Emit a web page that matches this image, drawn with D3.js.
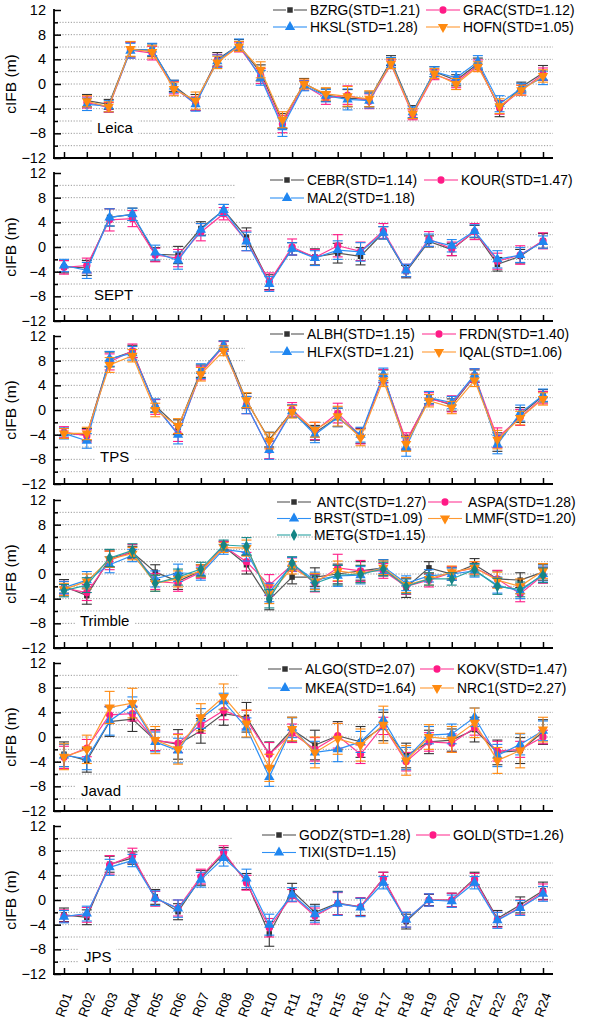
<!DOCTYPE html>
<html><head><meta charset="utf-8">
<script src="https://cdn.jsdelivr.net/npm/d3@7"></script>
<style>
body{margin:0;background:#fff}
svg{display:block}
text{font-family:"Liberation Sans",Arial,sans-serif;fill:#000}
</style>
</head><body>
<svg id="c" width="610" height="1025"></svg>
<script>
// ---------------- DATA ----------------
const categories = ["R01","R02","R03","R04","R05","R06","R07","R08","R09","R10","R11","R13","R15","R16","R17","R18","R19","R20","R21","R22","R23","R24"];
const yTickLabels = [-12,-8,-4,0,4,8,12];
const receivers = ["Leica","SEPT","TPS","Trimble","Javad","JPS"];

// Leica
const BZRG = [-2.7,-3.3,5.6,5.5,-0.3,-3.0,4.0,6.3,1.8,-6.0,0.1,-1.8,-2.3,-2.5,3.8,-4.5,2.0,0.6,3.3,-4.0,-0.5,1.8];
const GRAC = [-3.0,-3.8,5.5,5.0,-0.6,-3.2,3.8,6.0,1.3,-6.5,-0.2,-2.3,-1.8,-2.8,3.2,-5.0,1.5,0.3,3.0,-3.8,-1.0,1.6];
const HKSL = [-3.3,-3.6,5.4,5.6,-0.4,-3.3,3.7,6.4,1.0,-7.0,-0.3,-1.9,-2.5,-2.7,3.5,-4.6,2.0,1.0,3.6,-3.2,-0.7,1.0];
const HOFN = [-2.8,-3.7,5.7,5.2,-0.8,-2.7,3.5,6.1,2.3,-5.8,0.0,-1.6,-2.0,-2.4,3.3,-4.8,1.7,0.0,2.8,-3.6,-1.0,1.3];
const BZRG_err = [1.0,0.8,1.2,1.0,0.9,1.3,1.1,0.9,1.3,1.2,0.8,1.0,1.4,1.2,0.8,1.0,0.8,0.9,0.9,1.3,0.8,1.2];
const GRAC_err = [0.9,0.8,1.3,1.1,1.0,1.1,1.0,0.8,1.2,1.4,0.8,1.0,1.5,1.2,0.7,0.8,0.8,0.9,0.9,1.1,0.8,1.0];
const HKSL_err = [1.0,0.9,1.2,1.0,1.0,1.1,1.0,0.9,1.2,1.5,0.8,1.0,1.7,1.2,0.8,0.9,0.8,1.0,1.0,1.3,0.8,1.1];
const HOFN_err = [0.9,0.8,1.2,1.0,1.1,1.4,1.0,0.8,1.3,1.3,0.8,1.0,1.6,1.3,0.8,0.8,0.8,0.9,0.8,1.2,0.8,1.0];

// SEPT
const CEBR = [-3.2,-3.4,4.8,5.3,-1.2,-1.3,3.0,6.0,1.6,-5.7,-0.3,-1.6,-1.0,-1.5,2.3,-4.0,0.9,-0.4,2.5,-2.8,-1.5,1.0];
const KOUR = [-3.3,-3.0,4.4,4.6,-1.3,-1.8,2.4,5.4,1.0,-5.6,0.0,-1.7,0.2,-0.7,2.6,-3.8,1.3,-0.3,2.5,-2.3,-1.3,1.0];
const MAL2 = [-3.0,-3.8,4.8,5.3,-0.9,-2.2,2.8,6.0,0.9,-6.0,-0.3,-1.8,-0.5,-0.8,2.3,-3.8,1.1,0.2,2.6,-2.0,-1.3,0.8];
const CEBR_err = [1.0,1.2,1.4,1.0,1.1,1.4,1.1,0.9,1.5,1.2,1.0,1.3,1.6,1.4,1.0,1.0,0.9,1.0,1.0,1.1,1.1,1.2];
const KOUR_err = [1.1,1.2,1.8,1.3,1.1,1.4,1.4,1.0,1.6,1.4,1.3,1.3,1.8,1.5,1.2,1.0,1.2,1.1,1.3,1.3,1.5,1.3];
const MAL2_err = [1.0,1.3,1.4,1.0,1.2,1.4,1.0,0.9,1.5,1.2,1.0,1.2,1.5,1.5,1.0,1.0,1.0,1.0,1.0,1.4,1.2,1.0];

// TPS
const ALBH = [-3.8,-4.0,8.2,9.5,0.7,-2.8,6.3,10.5,1.5,-4.8,-0.2,-3.7,-1.2,-4.2,5.5,-5.3,2.0,0.8,5.5,-5.2,-0.8,2.3];
const FRDN = [-3.6,-4.2,7.8,9.6,0.5,-3.8,6.0,10.3,0.8,-6.5,0.1,-3.4,-0.5,-4.2,5.5,-5.0,1.8,1.0,5.6,-4.5,-1.2,2.0];
const HLFX = [-3.8,-5.0,8.3,9.2,0.7,-4.0,6.3,10.4,0.8,-6.5,-0.2,-4.0,-1.2,-4.0,5.8,-6.0,2.0,1.2,5.7,-5.6,-0.5,2.4];
const IQAL = [-3.8,-3.8,7.3,8.8,0.0,-2.6,5.8,9.6,1.6,-5.0,-0.3,-3.2,-1.0,-4.5,4.8,-5.5,1.5,0.4,4.8,-4.8,-1.3,1.8];
const ALBH_err = [0.8,1.0,1.2,1.0,1.0,1.2,1.0,0.7,1.2,1.2,1.0,1.2,1.5,1.2,1.0,1.2,1.0,1.0,1.0,1.5,1.2,1.0];
const FRDN_err = [0.9,1.0,1.3,1.1,1.2,1.3,1.1,0.8,1.4,1.4,1.1,1.4,1.6,1.3,1.1,1.3,1.0,1.3,1.1,1.6,1.3,1.0];
const HLFX_err = [0.9,1.2,1.2,1.1,1.1,1.5,1.2,0.8,1.4,1.5,1.0,1.3,1.5,1.2,1.0,1.5,1.0,1.0,1.0,1.5,1.3,1.0];
const IQAL_err = [0.8,1.0,1.2,1.0,1.1,1.2,1.1,0.8,1.2,1.3,1.0,1.2,1.6,1.3,1.0,1.2,1.0,1.0,1.0,1.5,1.1,1.0];

// Trimble
const ANTC = [-2.0,-3.5,2.5,3.5,0.3,-1.2,0.5,4.5,1.5,-4.2,-0.5,-0.5,0.0,0.5,1.0,-2.2,1.0,0.0,1.5,-0.8,-1.0,0.3];
const ASPA = [-2.3,-3.0,2.2,3.7,-1.2,-1.5,0.3,4.5,2.0,-1.8,1.5,-1.5,1.0,0.5,0.5,-2.0,-1.0,0.2,1.0,-0.8,-3.2,-0.2];
const BRST = [-2.2,-1.0,1.5,3.0,-0.8,0.2,0.0,4.0,3.5,-3.0,1.6,-1.0,-0.3,-0.2,1.2,-1.5,-0.3,0.0,0.5,-1.8,-2.8,0.0];
const LMMF = [-2.5,-1.2,2.4,3.3,-1.5,-0.8,0.5,4.3,4.2,-3.3,1.0,-1.2,0.5,0.0,1.0,-1.8,-0.8,0.3,1.0,-1.0,-2.0,0.5];
const METG = [-2.7,-1.8,2.6,3.8,-1.5,-0.5,0.8,4.7,4.5,-4.0,1.8,-1.5,-0.2,0.0,0.8,-2.0,-0.8,-0.8,0.7,-2.0,-2.5,-0.2];
const ANTC_err = [1.1,1.4,1.4,1.0,1.2,1.3,1.0,0.8,1.5,1.6,1.1,1.5,1.6,1.5,1.3,1.6,1.0,1.0,1.0,1.3,1.2,1.3];
const ASPA_err = [1.1,1.3,1.5,1.1,1.3,1.3,1.0,0.8,1.5,1.7,1.1,1.4,2.2,1.7,1.2,1.3,1.1,1.0,1.0,1.4,1.3,1.3];
const BRST_err = [1.0,1.4,1.3,1.0,1.3,1.4,1.0,0.8,1.4,1.5,1.1,1.3,1.7,1.4,1.1,1.2,1.0,1.0,1.0,1.3,1.2,1.3];
const LMMF_err = [1.0,1.2,1.3,1.0,1.3,1.3,1.0,0.8,1.3,1.5,1.0,1.3,1.6,1.4,1.1,1.2,1.0,1.0,1.0,1.3,1.2,1.2];
const METG_err = [1.0,1.2,1.4,1.1,1.3,1.3,1.1,0.8,1.4,1.5,1.0,1.3,1.6,1.4,1.1,1.2,1.0,1.0,1.0,1.3,1.2,1.2];

// Javad
const ALGO = [-2.8,-3.8,2.5,2.9,-0.5,-1.2,1.0,3.8,3.2,-2.8,1.2,-1.3,0.2,-0.8,1.7,-3.0,-0.8,-0.5,1.2,-2.5,-2.2,0.8];
const KOKV = [-3.3,-1.8,3.6,3.8,-0.6,-1.0,2.0,4.3,2.8,-2.8,0.6,-2.0,0.2,-2.8,1.8,-4.0,-0.8,-1.0,1.5,-2.3,-2.0,0.0];
const MKEA = [-3.0,-3.5,2.6,5.2,-0.8,-2.2,3.0,5.8,1.5,-6.5,1.5,-2.5,-2.0,-0.8,2.8,-3.5,0.3,0.5,3.2,-3.0,-1.2,1.0];
const NRC1 = [-3.2,-2.0,4.8,5.5,-0.5,-2.0,3.2,6.5,2.2,-5.0,1.3,-2.5,-0.3,-1.3,2.0,-3.8,0.0,-0.4,2.3,-3.8,-2.2,1.2];
const ALGO_err = [2.0,1.9,2.4,2.0,1.7,2.4,2.0,1.9,2.4,2.0,2.0,2.4,2.3,2.5,2.3,2.0,1.9,1.8,2.0,2.0,2.1,2.0];
const KOKV_err = [1.8,1.4,1.4,1.2,1.6,1.5,1.4,1.5,1.5,1.9,1.5,1.9,2.0,1.5,1.4,1.5,1.5,1.5,1.2,1.6,1.3,1.1];
const MKEA_err = [1.8,1.8,2.3,1.3,1.6,2.0,1.6,1.3,1.6,1.5,1.6,1.8,2.0,1.7,1.6,1.8,1.4,1.6,1.5,1.8,1.7,1.6];
const NRC1_err = [2.1,2.3,2.6,2.4,2.2,2.4,2.2,2.1,2.2,2.2,1.9,2.5,2.5,2.6,3.0,2.4,2.0,2.1,2.4,2.1,2.8,2.0];

// JPS
const GODZ = [-2.4,-2.8,5.8,6.8,0.5,-1.9,3.6,7.5,3.0,-5.5,1.5,-2.0,-0.5,-1.1,3.5,-3.5,0.0,0.0,3.5,-3.0,-0.8,1.5];
const GOLD = [-2.6,-2.4,5.7,7.2,0.2,-1.3,3.8,7.8,2.8,-4.5,0.7,-2.6,-0.6,-1.1,3.5,-3.2,0.0,0.0,3.3,-3.2,-1.2,1.3];
const TIXI = [-2.7,-2.2,5.3,6.4,0.3,-1.4,3.3,6.8,3.5,-4.0,0.9,-2.3,-0.6,-1.2,2.8,-3.2,0.0,-0.2,2.8,-3.3,-1.3,1.0];
const GODZ_err = [1.1,1.2,1.3,1.0,1.2,1.3,1.2,1.0,1.3,2.0,1.2,1.3,1.9,1.4,1.0,1.2,0.9,1.1,1.0,1.3,1.3,1.4];
const GOLD_err = [1.0,1.2,1.5,1.2,1.2,1.3,1.2,1.0,1.2,1.5,1.0,1.3,1.8,1.5,1.0,1.2,1.0,1.1,1.0,1.2,1.2,1.3];
const TIXI_err = [1.0,1.2,1.3,1.0,1.2,1.4,1.2,1.3,1.5,1.7,1.1,1.3,1.9,1.5,1.0,1.2,1.0,1.0,1.0,1.3,1.2,1.2];

// ---------------- STYLES / LAYOUT ----------------
const styles = {
  black:  {line:"#555555", mark:"#333333", sym:d3.symbolSquare,  size:30, rot:0},
  pink:   {line:"#ff3a96", mark:"#ff1a86", sym:d3.symbolCircle,  size:42, rot:0},
  blue:   {line:"#2e90f5", mark:"#1f86f0", sym:d3.symbolTriangle,size:46, rot:0},
  orange: {line:"#ff9a33", mark:"#ff8a10", sym:d3.symbolTriangle,size:46, rot:180},
  teal:   {line:"#2aa3a3", mark:"#158585", sym:d3.symbolDiamond, size:40, rot:0}
};

const panels = [
  {name:"Leica", series:[
    {label:"BZRG(STD=1.21)", v:BZRG, e:BZRG_err, s:"black"},
    {label:"GRAC(STD=1.12)", v:GRAC, e:GRAC_err, s:"pink"},
    {label:"HKSL(STD=1.28)", v:HKSL, e:HKSL_err, s:"blue"},
    {label:"HOFN(STD=1.05)", v:HOFN, e:HOFN_err, s:"orange"}]},
  {name:"SEPT", series:[
    {label:"CEBR(STD=1.14)", v:CEBR, e:CEBR_err, s:"black"},
    {label:"KOUR(STD=1.47)", v:KOUR, e:KOUR_err, s:"pink"},
    {label:"MAL2(STD=1.18)", v:MAL2, e:MAL2_err, s:"blue"}]},
  {name:"TPS", series:[
    {label:"ALBH(STD=1.15)", v:ALBH, e:ALBH_err, s:"black"},
    {label:"FRDN(STD=1.40)", v:FRDN, e:FRDN_err, s:"pink"},
    {label:"HLFX(STD=1.21)", v:HLFX, e:HLFX_err, s:"blue"},
    {label:"IQAL(STD=1.06)", v:IQAL, e:IQAL_err, s:"orange"}]},
  {name:"Trimble", series:[
    {label:" ANTC(STD=1.27)", v:ANTC, e:ANTC_err, s:"black"},
    {label:" ASPA(STD=1.28)", v:ASPA, e:ASPA_err, s:"pink"},
    {label:"BRST(STD=1.09)", v:BRST, e:BRST_err, s:"blue"},
    {label:"LMMF(STD=1.20)", v:LMMF, e:LMMF_err, s:"orange"},
    {label:"METG(STD=1.15)", v:METG, e:METG_err, s:"teal"}]},
  {name:"Javad", series:[
    {label:"ALGO(STD=2.07)", v:ALGO, e:ALGO_err, s:"black"},
    {label:"KOKV(STD=1.47)", v:KOKV, e:KOKV_err, s:"pink"},
    {label:"MKEA(STD=1.64)", v:MKEA, e:MKEA_err, s:"blue"},
    {label:"NRC1(STD=2.27)", v:NRC1, e:NRC1_err, s:"orange"}]},
  {name:"JPS", series:[
    {label:"GODZ(STD=1.28)", v:GODZ, e:GODZ_err, s:"black"},
    {label:"GOLD(STD=1.26)", v:GOLD, e:GOLD_err, s:"pink"},
    {label:"TIXI(STD=1.15)", v:TIXI, e:TIXI_err, s:"blue"}]}
];

const L = {
  tops:[10,173,336,500,663,826], h:148,
  axisX0:54, axisX1:553, tick0:64, tick1:543,
  dataX0:[87,64,64,64,64,64],
  gridEnd:[268,236,245,249,239,233],
  legX1:[273,270,270,277,268,262], legX2:[426,424,422,428,420,416],
  legY:[10,180,334,502,669,835], legDy:[17,18,18,16.5,19,17.5],
  labX:[97,94,100,80,81,84], labDy:[-6,-2,-3,-3,4,7]
};

const svg = d3.select("#c");
const xTicks = d3.scalePoint().domain(categories).range([L.tick0, L.tick1]);

panels.forEach((p, i) => {
  const top = L.tops[i], bot = top + L.h;
  const y = d3.scaleLinear().domain([-12,12]).range([bot, top]);
  const x = d3.scalePoint().domain(categories).range([L.dataX0[i], L.tick1]);
  const g = svg.append("g");

  // grid
  d3.range(-10, 11, 2).forEach(v => {
    g.append("line").attr("x1", L.axisX0).attr("x2", v >= 8 ? L.gridEnd[i] : L.axisX1)
      .attr("y1", y(v)).attr("y2", y(v))
      .attr("stroke", "#9a9a9a").attr("stroke-width", 1).attr("stroke-dasharray", "1.2,1.6");
  });

  // receiver label with white background
  const lab = g.append("text").attr("x", L.labX[i]).attr("y", y(-8) + L.labDy[i]).attr("dy", "0.35em")
    .attr("font-size", 15).text(p.name);
  const bb = lab.node().getBBox();
  g.insert("rect", "text").attr("x", bb.x - 5).attr("y", bb.y).attr("width", bb.width + 10)
    .attr("height", bb.height).attr("fill", "#fff");

  // series
  p.series.forEach(sr => {
    const st = styles[sr.s];
    const pts = categories.map((c, k) => ({x: x(c), v: sr.v[k], e: sr.e[k]}));
    const eg = g.append("g").attr("stroke", st.mark).attr("stroke-width", 1.1).attr("fill", "none");
    pts.forEach(d => {
      eg.append("line").attr("x1", d.x).attr("x2", d.x).attr("y1", y(d.v - d.e)).attr("y2", y(d.v + d.e));
      eg.append("line").attr("x1", d.x - 5).attr("x2", d.x + 5).attr("y1", y(d.v - d.e)).attr("y2", y(d.v - d.e));
      eg.append("line").attr("x1", d.x - 5).attr("x2", d.x + 5).attr("y1", y(d.v + d.e)).attr("y2", y(d.v + d.e));
    });
    g.append("path").datum(pts)
      .attr("d", d3.line().x(d => d.x).y(d => y(d.v)))
      .attr("fill", "none").attr("stroke", st.line).attr("stroke-width", 1.2);
    const sym = d3.symbol().type(st.sym).size(st.size);
    g.append("g").selectAll("path").data(pts).join("path")
      .attr("transform", d => `translate(${d.x},${y(d.v)}) rotate(${st.rot})`)
      .attr("d", sym).attr("fill", st.mark);
  });

  // axes
  const yMajor = d3.axisLeft(y).tickValues(yTickLabels).tickSize(-7).tickPadding(8).tickFormat(d3.format("d"));
  const ya = g.append("g").attr("transform", `translate(${L.axisX0},0)`).call(yMajor);
  ya.select(".domain").remove();
  ya.selectAll("text").attr("font-size", 14.5).attr("font-family", "Liberation Sans, Arial, sans-serif").attr("fill", "#000");
  ya.selectAll("line").attr("stroke", "#000").attr("stroke-width", 1.5);
  const yMinor = d3.axisLeft(y).tickValues(d3.range(-10, 11, 4)).tickSize(-4).tickFormat("");
  const ym = g.append("g").attr("transform", `translate(${L.axisX0},0)`).call(yMinor);
  ym.select(".domain").remove();
  ym.selectAll("line").attr("stroke", "#000").attr("stroke-width", 1.5);

  const xa = g.append("g").attr("transform", `translate(0,${bot})`)
    .call(d3.axisBottom(xTicks).tickSize(-6).tickFormat(""));
  xa.select(".domain").remove();
  xa.selectAll("line").attr("stroke", "#000").attr("stroke-width", 1.5);

  g.append("line").attr("x1", L.axisX0).attr("x2", L.axisX0).attr("y1", top - 1).attr("y2", bot + 1)
    .attr("stroke", "#000").attr("stroke-width", 1.8);
  g.append("line").attr("x1", L.axisX0 - 0.9).attr("x2", L.axisX1).attr("y1", bot).attr("y2", bot)
    .attr("stroke", "#000").attr("stroke-width", 1.8);

  // y title
  g.append("text").attr("transform", `translate(16,${top + L.h / 2}) rotate(-90)`)
    .attr("text-anchor", "middle").attr("font-size", 15.5).text("cIFB (m)");

  // legend
  p.series.forEach((sr, k) => {
    const st = styles[sr.s];
    const col = k % 2, row = Math.floor(k / 2);
    const lx = col === 0 ? L.legX1[i] : L.legX2[i];
    const ly = L.legY[i] + row * L.legDy[i];
    const lg = g.append("g");
    lg.append("line").attr("x1", lx).attr("x2", lx + 13).attr("y1", ly).attr("y2", ly).attr("stroke", st.line).attr("stroke-width", 1.1);
    lg.append("line").attr("x1", lx + 21).attr("x2", lx + 34).attr("y1", ly).attr("y2", ly).attr("stroke", st.line).attr("stroke-width", 1.1);
    lg.append("path").attr("transform", `translate(${lx + 17},${ly}) rotate(${st.rot})`)
      .attr("d", d3.symbol().type(st.sym).size(st.size)()).attr("fill", st.mark);
    lg.append("text").attr("x", lx + 37).attr("y", ly).attr("dy", "0.35em").attr("font-size", 13.8)
      .style("white-space", "pre").text(sr.label);
  });

  // x labels on last panel
  if (i === panels.length - 1) {
    categories.forEach(c => {
      g.append("text").attr("transform", `translate(${xTicks(c) + 4},${bot + 19}) rotate(-70)`)
        .attr("text-anchor", "end").attr("dy", "0.35em").attr("font-size", 13.5).text(c);
    });
  }
});
</script>
</body></html>
